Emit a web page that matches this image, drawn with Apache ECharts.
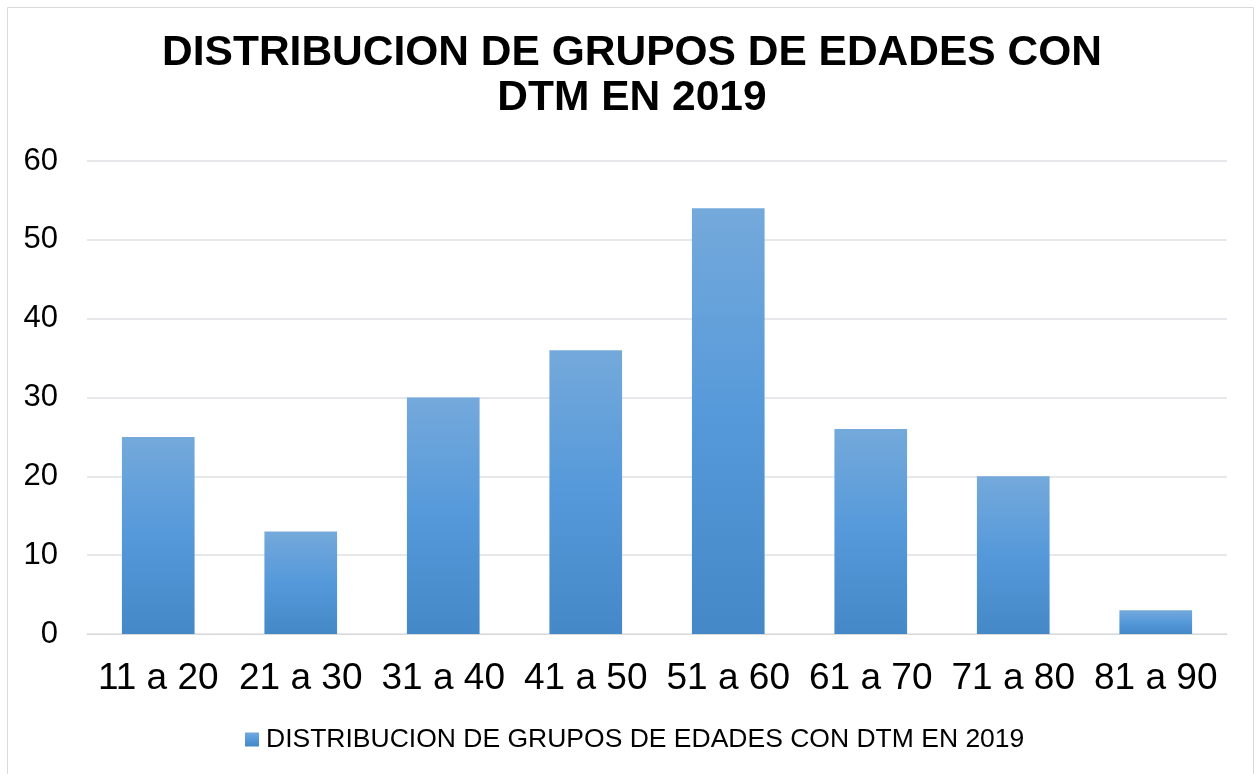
<!DOCTYPE html>
<html>
<head>
<meta charset="utf-8">
<script src="https://cdn.jsdelivr.net/npm/echarts@6/dist/echarts.min.js"></script>
<style>
html,body{margin:0;padding:0;background:#fff;}
#chart{width:1256px;height:774px;}
</style>
</head>
<body>
<div id="chart"></div>
<script>
const titleLines = ['DISTRIBUCION DE GRUPOS DE EDADES CON', 'DTM EN 2019'];
const seriesName = 'DISTRIBUCION DE GRUPOS DE EDADES CON DTM EN 2019';
const categories = ['11 a 20', '21 a 30', '31 a 40', '41 a 50', '51 a 60', '61 a 70', '71 a 80', '81 a 90'];
const values = [25, 13, 30, 36, 54, 26, 20, 3];
const yTicks = { min: 0, max: 60, interval: 10 };

const font = '"Liberation Sans", Arial, sans-serif';
const chart = echarts.init(document.getElementById('chart'), null, { renderer: 'canvas' });
const barGradient = new echarts.graphic.LinearGradient(0, 0, 0, 1, [
  { offset: 0, color: '#74a9db' },
  { offset: 0.5, color: '#5599da' },
  { offset: 1, color: '#4588c7' }
]);
chart.setOption({
  animation: false,
  backgroundColor: '#ffffff',
  graphic: [
    {
      type: 'rect', z: -10,
      shape: { x: 7.5, y: 7.5, width: 1246, height: 800 },
      style: { fill: 'none', stroke: '#d9d9d9', lineWidth: 1 }
    },
    {
      type: 'text', x: 632, y: 31,
      style: {
        text: titleLines.join('\n'),
        font: 'bold 42.5px ' + font,
        fill: '#000000',
        align: 'center',
        verticalAlign: 'top',
        lineHeight: 45
      }
    }
  ],
  legend: {
    left: 245, top: 726, padding: 0,
    itemWidth: 14, itemHeight: 14, itemGap: 10,
    icon: 'rect',
    textStyle: { fontFamily: font, fontSize: 26.5, color: '#000', padding: [0, 0, 0, 2] },
    data: [seriesName]
  },
  grid: { left: 87, right: 29, top: 161, bottom: 140, containLabel: false },
  xAxis: {
    type: 'category',
    data: categories,
    axisLine: { show: true, lineStyle: { color: '#d9d9d9', width: 1 } },
    axisTick: { show: false },
    axisLabel: { interval: 0, color: '#000', fontFamily: font, fontSize: 37, margin: 26 }
  },
  yAxis: {
    type: 'value',
    min: yTicks.min, max: yTicks.max, interval: yTicks.interval,
    axisLine: { show: false },
    axisTick: { show: false },
    splitLine: { lineStyle: { color: '#dfe1e6', width: 1.5 } },
    axisLabel: { color: '#000', fontFamily: font, fontSize: 31, margin: 29, padding: [3, 0, 0, 0] }
  },
  series: [{
    name: seriesName,
    type: 'bar',
    data: values,
    barCategoryGap: '49%',
    itemStyle: { color: barGradient }
  }]
});
</script>
</body>
</html>
